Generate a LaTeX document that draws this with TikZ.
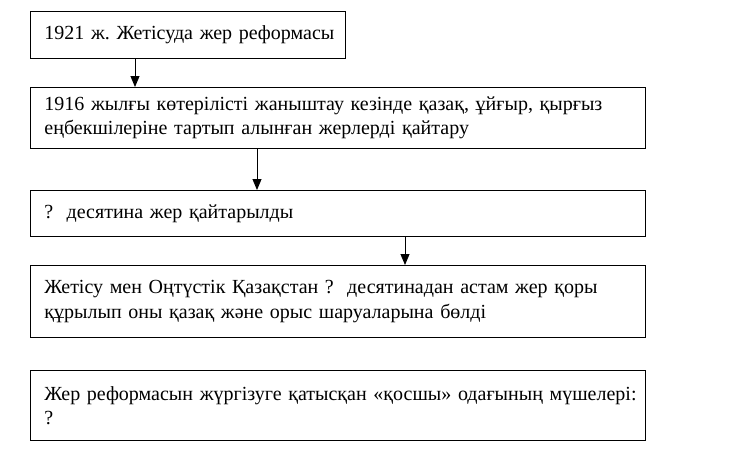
\documentclass[tikz,border=0pt]{standalone}
\usepackage{fontspec}
\setmainfont{Liberation Serif}
\frenchspacing
\usetikzlibrary{positioning}
\usetikzlibrary{arrows.meta}
\tikzset{
  stepbox/.style={draw=black, line width=0.9pt, anchor=north west, align=left,
    inner xsep=14pt, inner ysep=0pt, font=\fontsize{20}{24.5}\selectfont},
  flow/.style={-{Triangle[length=11pt, width=9pt]}, line width=0.9pt}
}
\begin{document}
\begin{tikzpicture}[x=1pt, y=1pt]
\useasboundingbox (0,0) rectangle (741,-451);
\node (1921) [stepbox, text width=287pt, minimum height=47pt] at (30pt, -11pt) {\mbox{1921 ж. Жетісуда жер реформасы}};
\node (return) [stepbox, text width=587pt, minimum height=61pt] at (30pt, -87pt) {\mbox{1916 жылғы көтерілісті жаныштау кезінде қазақ, ұйғыр, қырғыз}\\еңбекшілеріне тартып алынған жерлерді қайтару};
\node (desyatina) [stepbox, text width=587pt, minimum height=46pt] at (30pt, -190pt) {?\ \ десятина жер қайтарылды};
\node (fund) [stepbox, text width=587pt, minimum height=72pt] at (30pt, -265pt) {\mbox{Жетісу мен Оңтүстік Қазақстан ?\ \ десятинадан астам жер қоры}\\құрылып оны қазақ және орыс шаруаларына бөлді\\[-4pt]};
\node (qosshy) [stepbox, text width=587pt, minimum height=70pt] at (30pt, -370pt) {\mbox{Жер реформасын жүргізуге қатысқан «қосшы» одағының мүшелері:}\\?};
\draw [flow] (1921.south -| 135pt,0) -- (return.north -| 135pt,0);
\draw [flow] (return.south -| 257pt,0) -- (desyatina.north -| 257pt,0);
\draw [flow] (desyatina.south -| 405pt,0) -- (fund.north -| 405pt,0);
\end{tikzpicture}
\end{document}
